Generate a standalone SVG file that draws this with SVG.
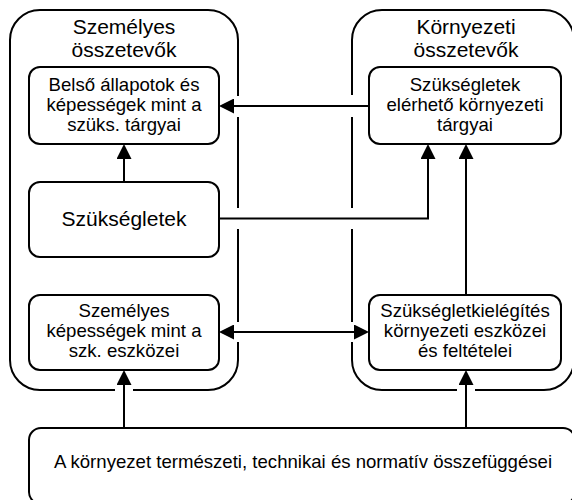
<svg xmlns="http://www.w3.org/2000/svg" width="572" height="500" viewBox="0 0 572 500">
<style>
.box{fill:#fff;stroke:#000;stroke-width:2}
.cont{fill:none;stroke:#000;stroke-width:2}
.t{font-family:"Liberation Sans",Arial,sans-serif;font-size:18.6px;fill:#000;text-anchor:middle}
.big{font-size:21px}
.c{fill:none;stroke:#000;stroke-width:2}
</style>
<defs>
<marker id="ah" markerUnits="userSpaceOnUse" markerWidth="15" markerHeight="15" refX="0" refY="7.5" orient="auto-start-reverse" viewBox="0 0 15 15">
<path d="M0,0 L15,7.5 L0,15 z" fill="#000"/>
</marker>
</defs>
<rect width="572" height="500" fill="#fff"/>
<g id="personal-container">
<path class="cont" d="M238,96 L238,40 A30,30 0 0 0 208,10 L40,10 A30,30 0 0 0 10,40 L10,360 A30,30 0 0 0 40,390 L115,390 M133,390 L208,390 A30,30 0 0 0 238,360 L238,342 M238,322 L238,229 M238,208 L238,117"/>
<text class="t big" x="124" y="34">Személyes</text>
<text class="t big" x="124" y="57">összetevők</text>
</g>
<g id="env-container">
<path class="cont" d="M352,95 L352,40 A30,30 0 0 1 382,10 L544,10 A30,30 0 0 1 574,40 L574,360 A30,30 0 0 1 544,390 L475,390 M457,390 L382,390 A30,30 0 0 1 352,360 L352,342 M352,322 L352,229 M352,208 L352,117"/>
<text class="t big" x="466" y="34">Környezeti</text>
<text class="t big" x="466" y="57">összetevők</text>
</g>
<g id="inner-states">
<rect class="box" x="29" y="67" width="190" height="77" rx="11"/>
<text class="t" x="124" y="91">Belső állapotok és</text>
<text class="t" x="124" y="111">képességek mint a</text>
<text class="t" x="124" y="131">szüks. tárgyai</text>
</g>
<g id="needs">
<rect class="box" x="29" y="182" width="190" height="75" rx="11"/>
<text class="t big" x="124" y="226">Szükségletek</text>
</g>
<g id="personal-abilities">
<rect class="box" x="29" y="295" width="190" height="75" rx="11"/>
<text class="t" x="124" y="317">Személyes</text>
<text class="t" x="124" y="337">képességek mint a</text>
<text class="t" x="124" y="357">szk. eszközei</text>
</g>
<g id="env-objects">
<rect class="box" x="369" y="67" width="192" height="77" rx="11"/>
<text class="t" x="465" y="91">Szükségletek</text>
<text class="t" x="465" y="111">elérhető környezeti</text>
<text class="t" x="465" y="131">tárgyai</text>
</g>
<g id="env-means">
<rect class="box" x="369" y="295" width="192" height="75" rx="11"/>
<text class="t" x="465" y="317">Szükségletkielégítés</text>
<text class="t" x="465" y="337">környezeti eszközei</text>
<text class="t" x="465" y="357">és feltételei</text>
</g>
<g id="context">
<rect class="box" x="29" y="428" width="546" height="76" rx="12"/>
<text class="t" x="303" y="468">A környezet természeti, technikai és normatív összefüggései</text>
</g>
<g id="connectors">
<path class="c" d="M369,106 L234,106" marker-end="url(#ah)"/>
<path class="c" d="M124,182 L124,159" marker-end="url(#ah)"/>
<path class="c" d="M219,218.5 L428,218.5 L428,159" marker-end="url(#ah)"/>
<path class="c" d="M466,295 L466,159" marker-end="url(#ah)"/>
<path class="c" d="M234,332 L354,332" marker-start="url(#ah)" marker-end="url(#ah)"/>
<path class="c" d="M124,428 L124,385" marker-end="url(#ah)"/>
<path class="c" d="M466,428 L466,385" marker-end="url(#ah)"/>
</g>
</svg>
